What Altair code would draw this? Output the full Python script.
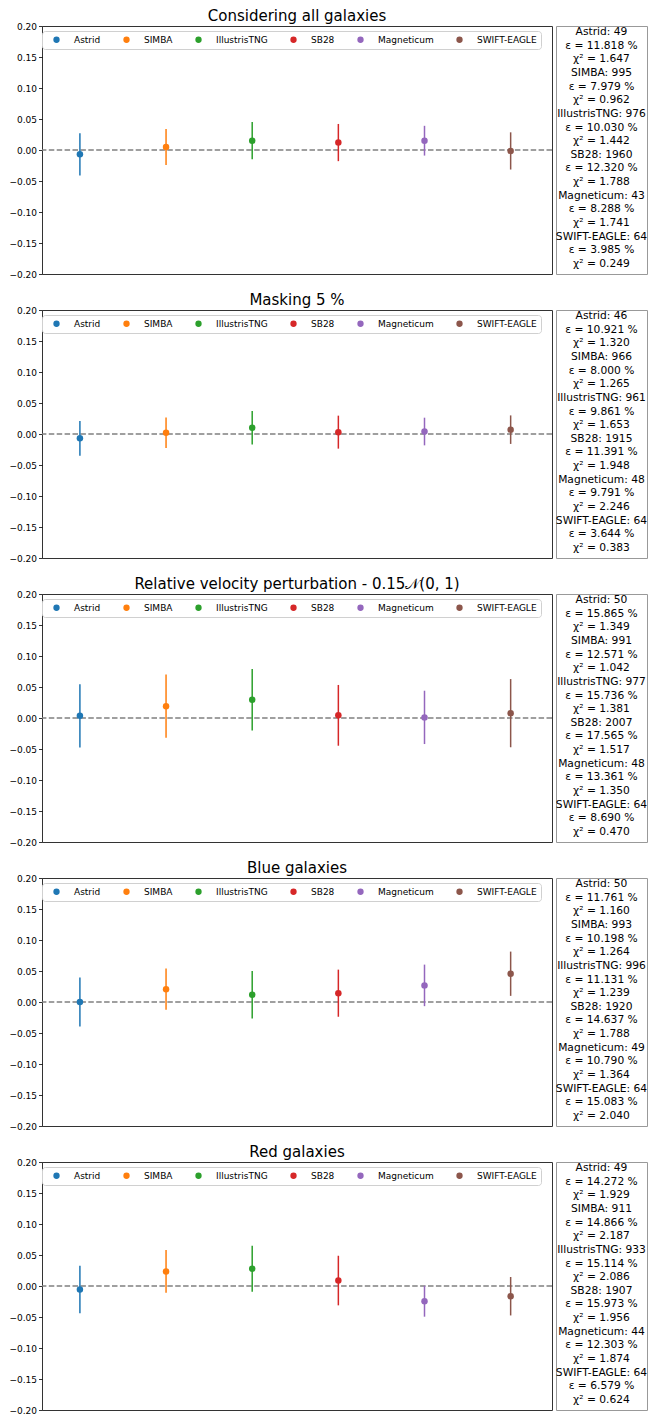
import altair as alt
import pandas as pd

models = ["Astrid", "SIMBA", "IllustrisTNG", "SB28", "Magneticum", "SWIFT-EAGLE"]
colors = ["#1f77b4", "#ff7f0e", "#2ca02c", "#d62728", "#9467bd", "#8c564b"]

titles = [
    "Considering all galaxies",
    "Masking 5 %",
    "Relative velocity perturbation - 0.15\U0001D4A9(0, 1)",
    "Blue galaxies",
    "Red galaxies",
]

# mean offsets and error half-widths per panel
means_all = [-0.007, 0.005, 0.015, 0.012, 0.015, -0.0015]
errs_all = [0.034, 0.029, 0.030, 0.030, 0.024, 0.030]
means_mask = [-0.007, 0.002, 0.010, 0.003, 0.004, 0.007]
errs_mask = [0.028, 0.0245, 0.027, 0.0266, 0.0223, 0.023]
means_vel = [0.0035, 0.019, 0.0295, 0.0043, 0.001, 0.0078]
errs_vel = [0.051, 0.051, 0.0495, 0.049, 0.043, 0.055]
means_blue = [0.0, 0.0207, 0.0118, 0.0142, 0.0268, 0.0456]
errs_blue = [0.0397, 0.0333, 0.0384, 0.038, 0.0335, 0.0357]
means_red = [-0.0056, 0.0235, 0.0278, 0.0088, -0.0246, -0.0165]
errs_red = [0.0384, 0.0344, 0.037, 0.040, 0.0249, 0.031]

counts_all = [49, 995, 976, 1960, 43, 64]
eps_all = [11.818, 7.979, 10.030, 12.320, 8.288, 3.985]
chi2_all = [1.647, 0.962, 1.442, 1.788, 1.741, 0.249]
counts_mask = [46, 966, 961, 1915, 48, 64]
eps_mask = [10.921, 8.000, 9.861, 11.391, 9.791, 3.644]
chi2_mask = [1.320, 1.265, 1.653, 1.948, 2.246, 0.383]
counts_vel = [50, 991, 977, 2007, 48, 64]
eps_vel = [15.865, 12.571, 15.736, 17.565, 13.361, 8.690]
chi2_vel = [1.349, 1.042, 1.381, 1.517, 1.350, 0.470]
counts_blue = [50, 993, 996, 1920, 49, 64]
eps_blue = [11.761, 10.198, 11.131, 14.637, 10.790, 15.083]
chi2_blue = [1.160, 1.264, 1.239, 1.788, 1.364, 2.040]
counts_red = [49, 911, 933, 1907, 44, 64]
eps_red = [14.272, 14.866, 15.114, 15.973, 12.303, 6.579]
chi2_red = [1.929, 2.187, 2.086, 1.956, 1.874, 0.624]

y_ticks = [-0.20, -0.15, -0.10, -0.05, 0.00, 0.05, 0.10, 0.15, 0.20]

panels = [
    (titles[0], means_all, errs_all, counts_all, eps_all, chi2_all),
    (titles[1], means_mask, errs_mask, counts_mask, eps_mask, chi2_mask),
    (titles[2], means_vel, errs_vel, counts_vel, eps_vel, chi2_vel),
    (titles[3], means_blue, errs_blue, counts_blue, eps_blue, chi2_blue),
    (titles[4], means_red, errs_red, counts_red, eps_red, chi2_red),
]

PLOT_W = 510
PLOT_H = 248
BOX_W = 91
FONT = "DejaVu Sans"


def make_panel(title, means, errs, counts, eps, chi2):
    df = pd.DataFrame({
        "model": models,
        "idx": list(range(len(models))),
        "mean": means,
        "lo": [m - e for m, e in zip(means, errs)],
        "hi": [m + e for m, e in zip(means, errs)],
    })
    xs = alt.Scale(domain=[-0.44, 5.48], nice=False, zero=False)
    ys = alt.Scale(domain=[-0.2, 0.2], nice=False, zero=False)
    cs = alt.Scale(domain=models, range=colors)
    yaxis = alt.Axis(values=y_ticks, format=".2f", title=None, grid=False,
                     domain=False, tickSize=3.5, tickWidth=0.8, tickColor="#000",
                     labelFontSize=9, labelFont=FONT, labelColor="#000",
                     labelPadding=2)

    zero = alt.Chart(pd.DataFrame({"z": [0.0]})).mark_rule(
        color="#808080", strokeDash=[5.5, 2.4], strokeWidth=1.4
    ).encode(y=alt.Y("z:Q", scale=ys, axis=yaxis))

    bars = alt.Chart(df).mark_rule(strokeWidth=1.5).encode(
        x=alt.X("idx:Q", scale=xs, axis=None),
        y=alt.Y("lo:Q", scale=ys, axis=yaxis),
        y2="hi:Q",
        stroke=alt.Stroke("model:N", scale=cs, legend=None),
    )

    pts = alt.Chart(df).mark_circle(size=42, opacity=1).encode(
        x=alt.X("idx:Q", scale=xs, axis=None),
        y=alt.Y("mean:Q", scale=ys, axis=yaxis),
        color=alt.Color("model:N", scale=cs, legend=alt.Legend(
            title=None, orient="none", legendX=0, legendY=5,
            direction="horizontal", columns=6, symbolType="circle",
            symbolSize=40, labelFontSize=9, labelFont=FONT,
            labelColor="#000", fillColor="white", strokeColor="#d0d0d0",
            padding=4, cornerRadius=3, columnPadding=15, labelOffset=13,
            symbolOffset=6,
        )),
    )

    plot = alt.layer(zero, bars, pts).properties(
        width=PLOT_W, height=PLOT_H,
        title=alt.TitleParams(title, fontSize=15, font=FONT, fontWeight="normal",
                              color="#000", anchor="middle", offset=-2),
    )

    lines = []
    for m, n, e, c in zip(models, counts, eps, chi2):
        lines.append(f"{m}: {n}")
        lines.append(f"\u03b5 = {e:.3f} %")
        lines.append(f"\u03c7\u00b2 = {c:.3f}")
    tdf = pd.DataFrame({"line": lines, "row": list(range(len(lines))), "c": [0] * len(lines)})
    box = alt.Chart(tdf).mark_text(fontSize=10.7, font=FONT, color="#000").encode(
        x=alt.X("c:Q", scale=alt.Scale(domain=[-1, 1]), axis=None),
        y=alt.Y("row:Q", scale=alt.Scale(domain=[17.75, -0.45], nice=False, zero=False), axis=None),
        text="line:N",
    ).properties(width=BOX_W, height=PLOT_H,
                 view=alt.ViewBackground(stroke="#999999", strokeWidth=1))

    return alt.hconcat(plot, box, spacing=4, bounds="flush").resolve_scale(
        color="independent").resolve_legend(color="independent")


chart = alt.vconcat(*[make_panel(*p) for p in panels], spacing=12).resolve_scale(
    color="independent", stroke="independent"
).resolve_legend(color="independent", stroke="independent").configure_view(
    stroke="#333333", strokeWidth=1
).properties(padding={"left": 0, "top": 0, "right": 0, "bottom": 0})

chart.save("out.html", embed_options={"renderer": "svg", "actions": False})
